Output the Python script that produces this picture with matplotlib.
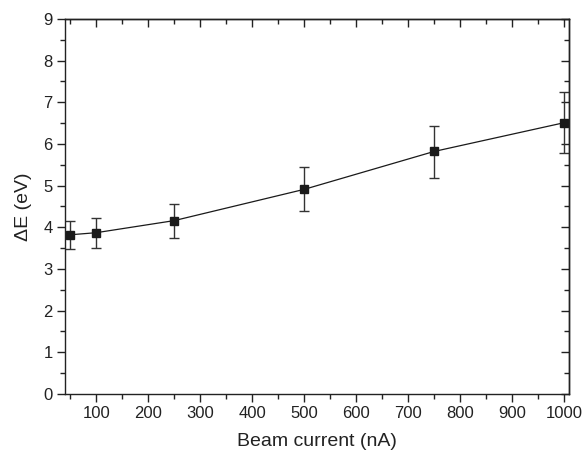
import matplotlib
matplotlib.use("Agg")
import matplotlib.pyplot as plt
from matplotlib.ticker import MultipleLocator

plt.rcParams['font.family'] = ['Liberation Sans', 'DejaVu Sans']

# beam current (nA) and energy spread (eV) with error limits
current = [50, 100, 250, 500, 750, 1000]
delta_e = [3.82, 3.87, 4.16, 4.91, 5.82, 6.51]
err_low = [3.49, 3.50, 3.75, 4.39, 5.18, 5.78]
err_high = [4.14, 4.22, 4.57, 5.44, 6.44, 7.25]

lower = [d - lo for d, lo in zip(delta_e, err_low)]
upper = [hi - d for d, hi in zip(delta_e, err_high)]

fig = plt.figure(figsize=(5.83, 4.57), dpi=100)
ax = fig.add_axes([0.1115, 0.138, 0.865, 0.8205])

ax.errorbar(current, delta_e, yerr=[lower, upper], fmt='s-', color='#1a1a1a',
            ecolor='#333333', elinewidth=1.0, capsize=3.5, capthick=1.0,
            markersize=6, linewidth=0.9)

ax.set_xlim(40, 1010)
ax.set_ylim(0, 9)
ax.xaxis.set_major_locator(MultipleLocator(100))
ax.xaxis.set_minor_locator(MultipleLocator(50))
ax.yaxis.set_major_locator(MultipleLocator(1))
ax.yaxis.set_minor_locator(MultipleLocator(0.5))
ax.set_xticks(range(100, 1001, 100))

for s in ax.spines.values():
    s.set_linewidth(1.0)
    s.set_color('#222222')

# outward ticks on bottom/left, inward mirror ticks on top/right
ax.tick_params(which='both', direction='out', top=False, right=False,
               labelsize=12, colors='#222222')
ax.tick_params(which='major', length=6, width=1.0, pad=3)
ax.tick_params(which='minor', length=3.5, width=1.0)

top = ax.secondary_xaxis('top')
top.set_xticks(range(100, 1001, 100))
top.xaxis.set_minor_locator(MultipleLocator(50))
top.tick_params(which='both', direction='in', labeltop=False, colors='#222222')
top.tick_params(which='major', length=6, width=1.0)
top.tick_params(which='minor', length=3.5, width=1.0)
top.spines['top'].set_linewidth(1.0)

right = ax.secondary_yaxis('right')
right.yaxis.set_major_locator(MultipleLocator(1))
right.yaxis.set_minor_locator(MultipleLocator(0.5))
right.tick_params(which='both', direction='in', labelright=False, colors='#222222')
right.tick_params(which='major', length=6, width=1.0)
right.tick_params(which='minor', length=3.5, width=1.0)
right.spines['right'].set_linewidth(1.0)

ax.set_xlabel('Beam current (nA)', fontsize=14, color='#222222', labelpad=8)
ax.set_ylabel('\u0394E (eV)', fontsize=14, color='#222222', labelpad=8)

fig.savefig('out.png', dpi=100)
